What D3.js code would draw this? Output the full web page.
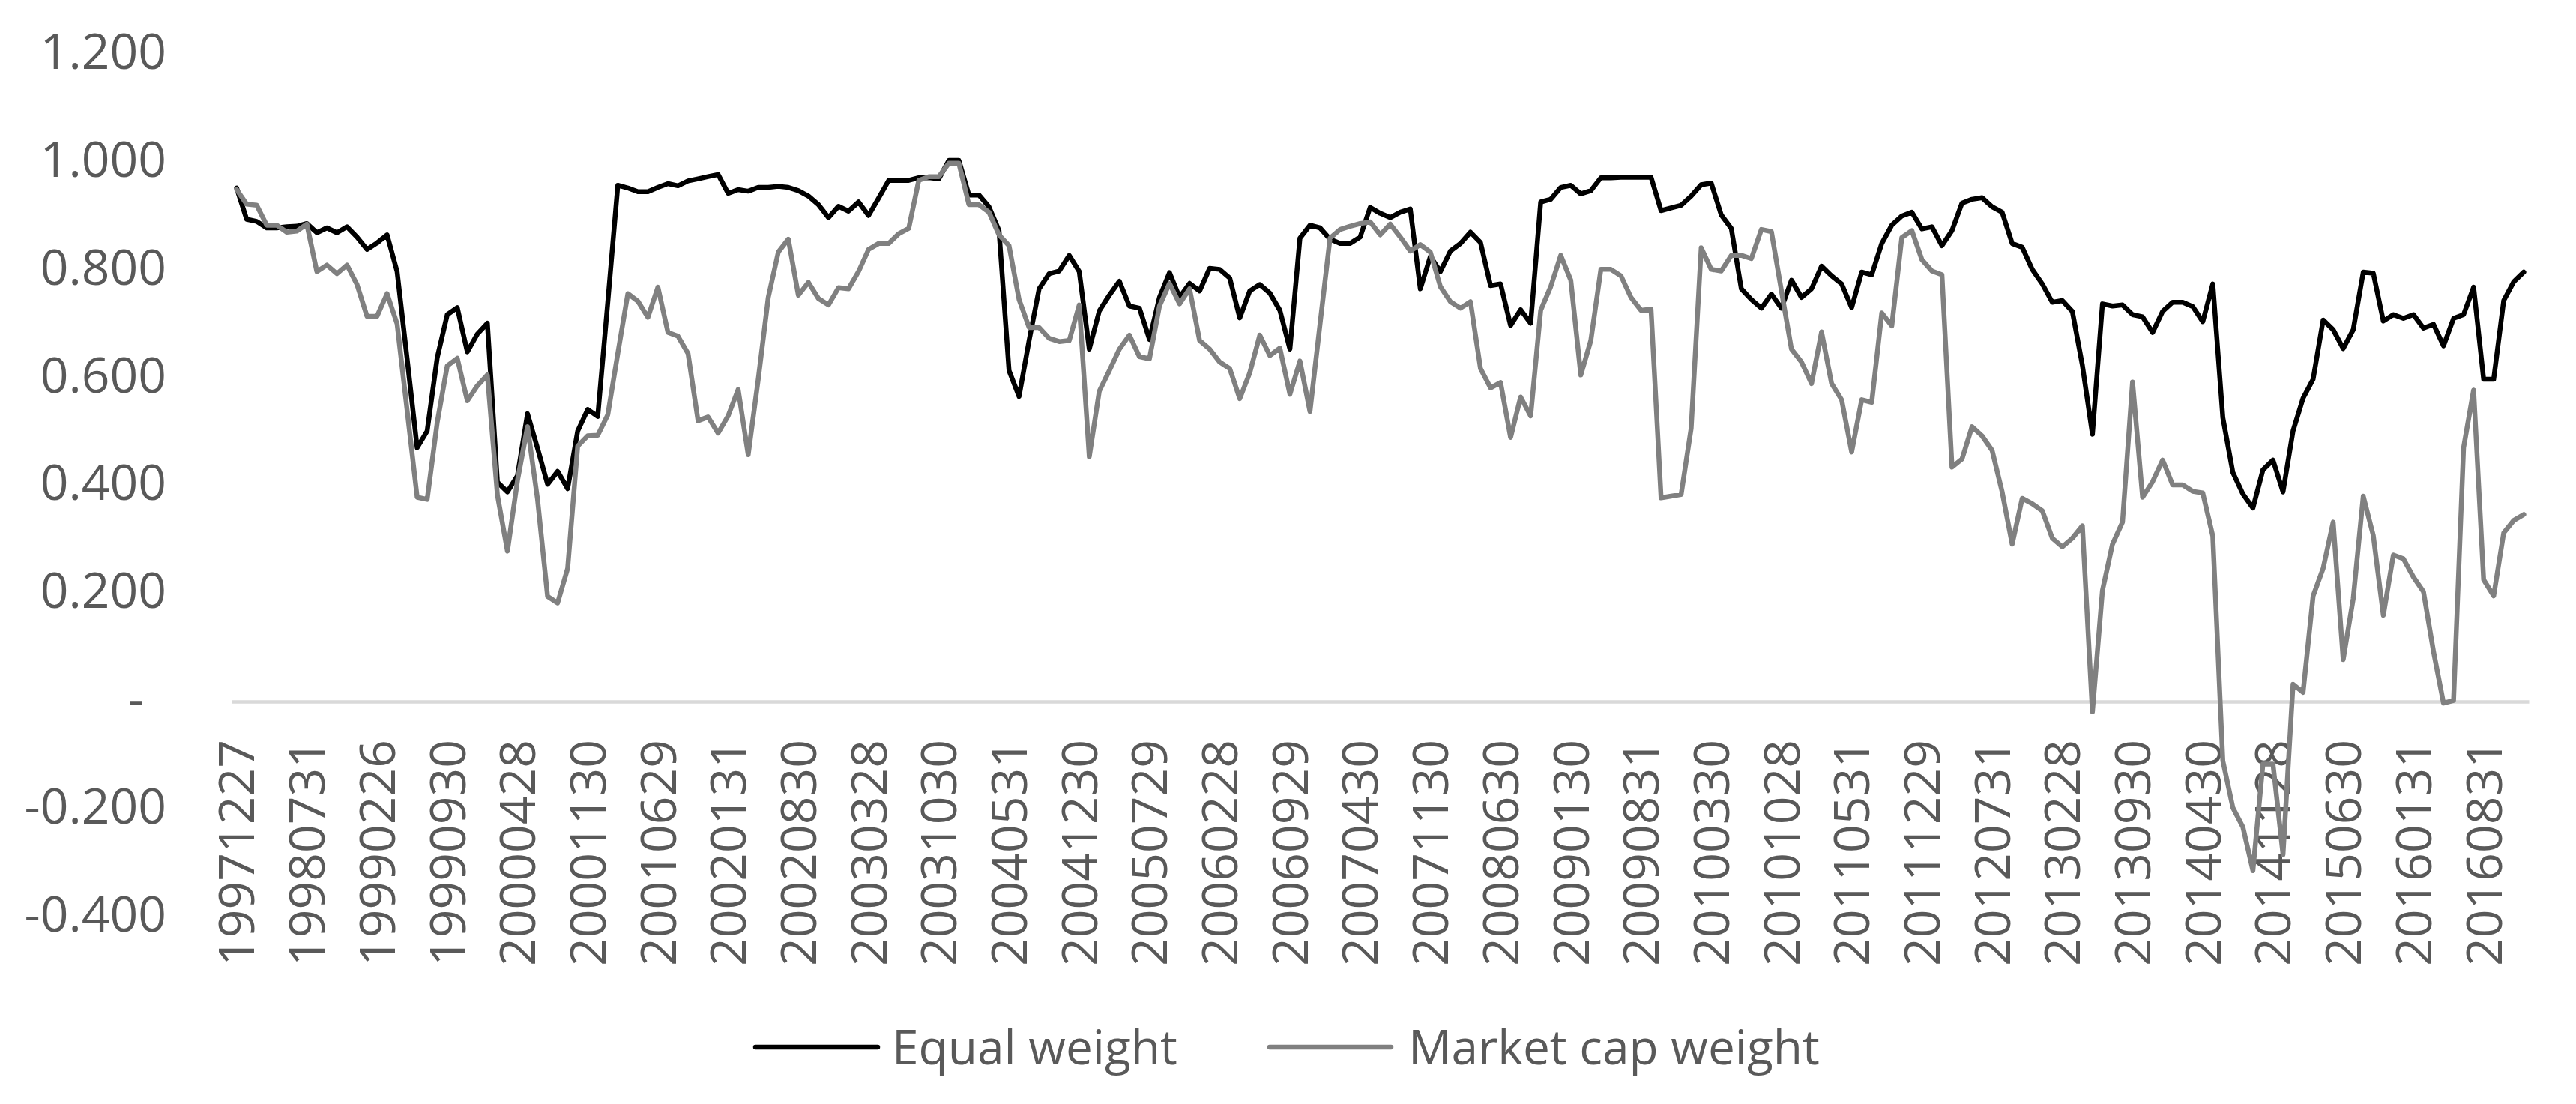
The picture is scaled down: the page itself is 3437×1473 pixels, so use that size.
<!DOCTYPE html>
<html>
<head>
<meta charset="utf-8">
<script src="https://cdn.jsdelivr.net/npm/d3@7"></script>
<style>
  html, body { margin: 0; padding: 0; background: #ffffff; }
  svg { display: block; }
</style>
</head>
<body>
<svg id="chart" width="3437" height="1473"></svg>
<script>
// ---------------- data ----------------
const seriesNames = ["Equal weight", "Market cap weight"];

const tickLabels = [
  "19971227","19980731","19990226","19990930","20000428","20001130","20010629",
  "20020131","20020830","20030328","20031030","20040531","20041230","20050729",
  "20060228","20060929","20070430","20071130","20080630","20090130","20090831",
  "20100330","20101028","20110531","20111229","20120731","20130228","20130930",
  "20140430","20141128","20150630","20160131","20160831"
];

const yTicks = [-0.4, -0.2, 0, 0.2, 0.4, 0.6, 0.8, 1.0, 1.2];

const equalWeight = [
  0.953,0.895,0.891,0.879,0.879,0.881,0.882,0.887,0.870,0.879,
  0.870,0.881,0.862,0.839,0.851,0.866,0.798,0.636,0.471,0.502,
  0.638,0.718,0.731,0.649,0.682,0.702,0.407,0.389,0.419,0.534,
  0.470,0.403,0.427,0.395,0.502,0.542,0.529,0.741,0.958,0.953,
  0.946,0.946,0.954,0.961,0.957,0.966,0.970,0.974,0.978,0.943,
  0.950,0.947,0.954,0.954,0.956,0.954,0.948,0.938,0.922,0.898,
  0.919,0.910,0.927,0.902,0.934,0.967,0.967,0.967,0.972,0.972,
  0.970,1.004,1.004,0.940,0.940,0.918,0.874,0.614,0.566,0.670,
  0.766,0.794,0.799,0.828,0.798,0.654,0.725,0.754,0.780,0.734,
  0.730,0.672,0.750,0.796,0.750,0.776,0.762,0.804,0.802,0.786,
  0.712,0.762,0.774,0.758,0.726,0.654,0.860,0.884,0.879,0.858,
  0.850,0.850,0.862,0.917,0.906,0.898,0.908,0.914,0.766,0.826,
  0.798,0.836,0.850,0.871,0.852,0.772,0.775,0.698,0.727,0.702,
  0.927,0.932,0.954,0.958,0.942,0.948,0.972,0.972,0.973,0.973,
  0.973,0.973,0.911,0.916,0.921,0.938,0.959,0.962,0.903,0.878,
  0.766,0.746,0.730,0.756,0.730,0.782,0.750,0.766,0.808,0.790,
  0.775,0.731,0.797,0.792,0.850,0.884,0.901,0.908,0.877,0.881,
  0.846,0.874,0.925,0.932,0.935,0.918,0.908,0.850,0.843,0.802,
  0.775,0.741,0.744,0.724,0.624,0.496,0.738,0.734,0.736,0.718,
  0.714,0.685,0.724,0.741,0.741,0.733,0.705,0.775,0.527,0.425,
  0.385,0.359,0.430,0.448,0.389,0.502,0.563,0.598,0.708,0.690,
  0.655,0.690,0.797,0.795,0.706,0.718,0.711,0.718,0.693,0.700,
  0.660,0.711,0.718,0.769,0.598,0.598,0.744,0.779,0.797
];

const marketCapWeight = [
  0.950,0.923,0.921,0.884,0.884,0.871,0.873,0.886,0.798,0.810,
  0.794,0.810,0.774,0.715,0.715,0.757,0.701,0.540,0.379,0.375,
  0.518,0.623,0.637,0.558,0.586,0.606,0.383,0.279,0.410,0.510,
  0.375,0.195,0.183,0.247,0.474,0.493,0.494,0.532,0.646,0.757,
  0.743,0.713,0.769,0.685,0.678,0.646,0.521,0.528,0.498,0.530,
  0.579,0.458,0.598,0.750,0.834,0.858,0.754,0.778,0.748,0.736,
  0.768,0.766,0.798,0.839,0.850,0.850,0.868,0.878,0.967,0.974,
  0.974,0.999,0.999,0.922,0.922,0.908,0.866,0.846,0.746,0.694,
  0.694,0.674,0.668,0.670,0.736,0.454,0.576,0.614,0.654,0.680,
  0.640,0.636,0.734,0.776,0.738,0.766,0.670,0.654,0.630,0.618,
  0.562,0.610,0.680,0.642,0.656,0.570,0.632,0.538,0.700,0.860,
  0.876,0.882,0.887,0.890,0.866,0.886,0.862,0.836,0.848,0.834,
  0.770,0.742,0.730,0.742,0.618,0.582,0.592,0.490,0.565,0.530,
  0.726,0.770,0.828,0.782,0.606,0.670,0.802,0.802,0.790,0.750,
  0.726,0.728,0.378,0.381,0.384,0.507,0.842,0.802,0.799,0.828,
  0.828,0.822,0.876,0.872,0.762,0.654,0.630,0.590,0.686,0.590,
  0.560,0.463,0.560,0.555,0.721,0.697,0.861,0.874,0.820,0.799,
  0.792,0.435,0.450,0.510,0.493,0.466,0.389,0.292,0.377,0.367,
  0.354,0.303,0.287,0.303,0.326,-0.019,0.206,0.292,0.333,0.593,
  0.379,0.408,0.448,0.402,0.402,0.390,0.387,0.307,-0.110,-0.197,
  -0.233,-0.314,-0.116,-0.116,-0.284,0.032,0.017,0.196,0.247,0.333,
  0.078,0.191,0.381,0.308,0.160,0.272,0.265,0.231,0.204,0.093,
  -0.003,0.002,0.471,0.578,0.226,0.196,0.313,0.336,0.347
];

// ---------------- layout ----------------
const FONT = "'Open Sans', 'DejaVu Sans', sans-serif";
const TEXT_COLOR = "#595959";
const plot = { left: 309, right: 3374, top: 73.2, bottom: 1223.6 };
const labelStep = 7;

const svg = d3.select("#chart");
svg.append("rect").attr("width", 3437).attr("height", 1473).attr("fill", "#ffffff");

const idx = d3.range(equalWeight.length);
const x = d3.scaleBand().domain(idx).range([plot.left, plot.right]).padding(0);
const y = d3.scaleLinear().domain([-0.4, 1.2]).range([plot.bottom, plot.top]);
const cx = i => x(i) + x.bandwidth() / 2;

// y axis (labels only), hyphen-minus like the original
const fmt = d3.formatLocale({ decimal: ".", thousands: ",", grouping: [3], currency: ["", ""], minus: "-" }).format(".3f");
const isZero = d => Math.abs(d) < 1e-9;
const yAxis = d3.axisLeft(y)
  .tickValues(yTicks)
  .tickSize(0)
  .tickPadding(0)
  .tickFormat(d => isZero(d) ? "-" : fmt(d));
const gy = svg.append("g").attr("transform", "translate(222,0)").call(yAxis);
gy.select(".domain").remove();
gy.selectAll("text")
  .attr("font-family", FONT)
  .attr("font-size", 66)
  .attr("fill", TEXT_COLOR)
  .attr("x", d => isZero(d) ? -30 : 0)
  .attr("dy", "0.28em");

// x axis at zero
const xAxis = d3.axisBottom(x)
  .tickValues(idx.filter(i => i % labelStep === 0))
  .tickSize(0)
  .tickSizeOuter(0)
  .tickFormat(i => tickLabels[i / labelStep]);
const gx = svg.append("g").attr("transform", `translate(0,${y(0)})`).call(xAxis);
gx.select(".domain").attr("stroke", "#d9d9d9").attr("stroke-width", 4.5);
gx.selectAll("text")
  .attr("font-family", FONT)
  .attr("font-size", 66)
  .attr("fill", TEXT_COLOR)
  .attr("text-anchor", "end")
  .attr("transform", "rotate(-90)")
  .attr("x", -51)
  .attr("y", 0)
  .attr("dy", "0.36em");

// lines
const line = d3.line().x((d, i) => cx(i)).y(d => y(d));
const series = [
  { name: seriesNames[0], values: equalWeight, color: "#000000" },
  { name: seriesNames[1], values: marketCapWeight, color: "#808080" }
];
series.forEach(s => {
  svg.append("path")
    .datum(s.values)
    .attr("fill", "none")
    .attr("stroke", s.color)
    .attr("stroke-width", 6.5)
    .attr("stroke-linejoin", "round")
    .attr("stroke-linecap", "round")
    .attr("d", line);
});

// legend
const legendItems = [
  { x0: 1008, x1: 1171, tx: 1190 },
  { x0: 1694, x1: 1856, tx: 1879 }
];
series.forEach((s, k) => {
  const L = legendItems[k];
  svg.append("line")
    .attr("x1", L.x0).attr("x2", L.x1)
    .attr("y1", 1397).attr("y2", 1397)
    .attr("stroke", s.color).attr("stroke-width", 6.5)
    .attr("stroke-linecap", "round");
  svg.append("text")
    .attr("x", L.tx).attr("y", 1397)
    .attr("dy", "0.36em")
    .attr("font-family", FONT)
    .attr("font-size", 64)
    .attr("fill", TEXT_COLOR)
    .text(s.name);
});
</script>
</body>
</html>
